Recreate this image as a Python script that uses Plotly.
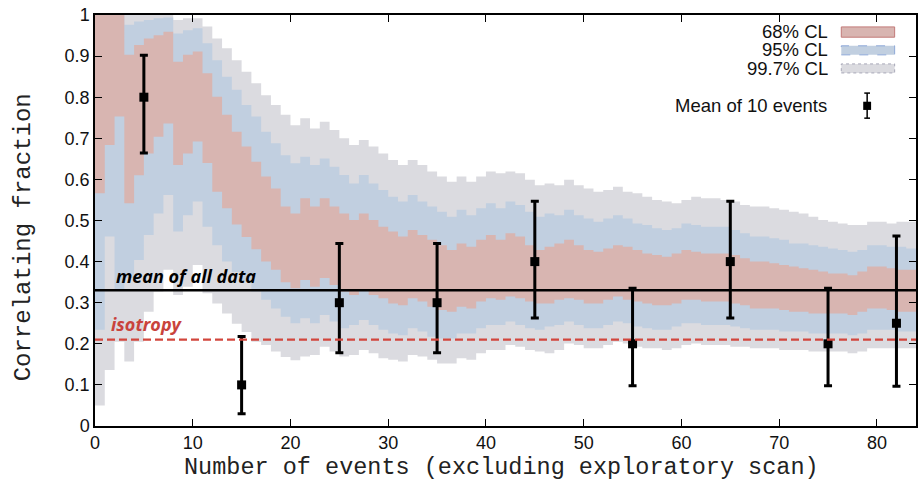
import plotly.graph_objects as go

# ---- band data: one value per event-count step (steps 0..83) ----
gray_lo = [0.05, 0.136, 0.205, 0.157, 0.205, 0.278, 0.327, 0.38, 0.319, 0.339, 0.392, 0.323, 0.298, 0.274, 0.249, 0.229, 0.205, 0.197, 0.181, 0.168, 0.16,
           0.169, 0.173, 0.193, 0.181, 0.169, 0.173, 0.185, 0.177, 0.165, 0.161, 0.157, 0.173, 0.169, 0.161, 0.152, 0.152, 0.165, 0.161, 0.177, 0.185, 0.185,
           0.197, 0.193, 0.185, 0.181, 0.177, 0.185, 0.201, 0.197, 0.189, 0.189, 0.197, 0.205, 0.201, 0.193, 0.189, 0.189, 0.185, 0.189, 0.197, 0.201, 0.197,
           0.197, 0.197, 0.193, 0.193, 0.189, 0.189, 0.189, 0.185, 0.185, 0.185, 0.181, 0.181, 0.181, 0.181, 0.177, 0.181, 0.189, 0.189, 0.189, 0.189, 0.189]
blue_lo = [0.234, 0.461, 0.33, 0.36, 0.404, 0.465, 0.517, 0.562, 0.473, 0.513, 0.546, 0.485, 0.44, 0.40, 0.375, 0.351, 0.327, 0.307, 0.286, 0.266, 0.25,
           0.262, 0.250, 0.270, 0.254, 0.238, 0.246, 0.258, 0.246, 0.234, 0.225, 0.221, 0.238, 0.230, 0.217, 0.213, 0.213, 0.225, 0.225, 0.238, 0.246, 0.246,
           0.254, 0.246, 0.238, 0.234, 0.242, 0.246, 0.254, 0.246, 0.238, 0.238, 0.246, 0.254, 0.250, 0.242, 0.238, 0.234, 0.234, 0.242, 0.250, 0.250, 0.246,
           0.246, 0.246, 0.242, 0.238, 0.234, 0.234, 0.234, 0.230, 0.230, 0.230, 0.225, 0.225, 0.225, 0.225, 0.221, 0.225, 0.234, 0.234, 0.234, 0.230, 0.230]
red_lo = [0.566, 0.684, 0.753, 0.542, 0.61, 0.663, 0.704, 0.736, 0.635, 0.663, 0.692, 0.64, 0.57, 0.53, 0.49, 0.46, 0.43, 0.40, 0.38, 0.35, 0.335,
          0.355, 0.339, 0.360, 0.343, 0.327, 0.319, 0.331, 0.319, 0.311, 0.298, 0.294, 0.311, 0.303, 0.290, 0.282, 0.278, 0.290, 0.286, 0.303, 0.311, 0.307,
          0.315, 0.311, 0.303, 0.298, 0.298, 0.307, 0.311, 0.307, 0.298, 0.298, 0.307, 0.315, 0.307, 0.303, 0.298, 0.294, 0.294, 0.298, 0.307, 0.307, 0.303,
          0.303, 0.303, 0.298, 0.294, 0.286, 0.286, 0.286, 0.282, 0.278, 0.278, 0.274, 0.274, 0.274, 0.274, 0.270, 0.278, 0.286, 0.286, 0.282, 0.278, 0.278]
red_hi = [1.0, 1.0, 1.0, 0.903, 0.927, 0.943, 0.951, 0.959, 0.886, 0.903, 0.911, 0.858, 0.801, 0.757, 0.716, 0.68, 0.643, 0.607, 0.578, 0.534, 0.517,
          0.554, 0.534, 0.554, 0.534, 0.517, 0.501, 0.517, 0.501, 0.485, 0.473, 0.461, 0.477, 0.465, 0.453, 0.440, 0.428, 0.444, 0.436, 0.453, 0.465, 0.453,
          0.469, 0.461, 0.440, 0.428, 0.436, 0.444, 0.453, 0.440, 0.428, 0.424, 0.432, 0.440, 0.436, 0.428, 0.420, 0.416, 0.412, 0.420, 0.428, 0.424, 0.420,
          0.420, 0.420, 0.416, 0.408, 0.400, 0.400, 0.396, 0.392, 0.388, 0.384, 0.380, 0.376, 0.371, 0.371, 0.367, 0.376, 0.388, 0.388, 0.384, 0.380, 0.380]
blue_hi = [1.0, 1.0, 1.0, 0.976, 0.984, 0.988, 0.992, 0.994, 0.955, 0.963, 0.968, 0.931, 0.89, 0.85, 0.818, 0.781, 0.753, 0.716, 0.688, 0.659, 0.639,
           0.655, 0.635, 0.651, 0.631, 0.611, 0.590, 0.611, 0.590, 0.574, 0.558, 0.546, 0.562, 0.546, 0.534, 0.521, 0.509, 0.526, 0.513, 0.530, 0.542, 0.530,
           0.546, 0.538, 0.521, 0.509, 0.517, 0.513, 0.526, 0.513, 0.505, 0.497, 0.505, 0.513, 0.505, 0.493, 0.489, 0.481, 0.477, 0.481, 0.493, 0.489, 0.485,
           0.485, 0.485, 0.477, 0.469, 0.461, 0.461, 0.457, 0.453, 0.444, 0.444, 0.440, 0.436, 0.432, 0.428, 0.424, 0.428, 0.440, 0.440, 0.436, 0.436, 0.432]
gray_hi = [1.0, 1.0, 1.0, 1.0, 1.0, 1.0, 1.0, 1.0, 0.988, 0.992, 0.992, 0.972, 0.943, 0.919, 0.89, 0.862, 0.834, 0.805, 0.781, 0.757, 0.732,
           0.749, 0.724, 0.740, 0.720, 0.700, 0.684, 0.696, 0.680, 0.663, 0.647, 0.635, 0.647, 0.635, 0.619, 0.607, 0.594, 0.607, 0.594, 0.607, 0.619, 0.615,
           0.619, 0.615, 0.599, 0.586, 0.590, 0.586, 0.599, 0.586, 0.578, 0.570, 0.574, 0.582, 0.570, 0.566, 0.558, 0.550, 0.546, 0.542, 0.550, 0.558, 0.554,
           0.554, 0.550, 0.546, 0.538, 0.534, 0.534, 0.530, 0.526, 0.521, 0.517, 0.509, 0.501, 0.497, 0.493, 0.489, 0.489, 0.497, 0.497, 0.493, 0.497, 0.497]

# ---- mean of 10 events ----
mean_x = [5, 15, 25, 35, 45, 55, 65, 75, 82]
mean_y = [0.8, 0.1, 0.3, 0.3, 0.4, 0.2, 0.4, 0.2, 0.25]
mean_hi = [0.902, 0.218, 0.444, 0.444, 0.547, 0.335, 0.547, 0.335, 0.462]
mean_lo = [0.664, 0.03, 0.178, 0.178, 0.263, 0.098, 0.263, 0.098, 0.097]

mean_all = 0.33
isotropy = 0.21

RED = "#d8b5b1"
BLUE = "#c1cfe0"
GRAY = "#dbdbe0"


def step_poly(lo, hi):
    xs, ys = [], []
    for k in range(len(hi)):
        xs += [k, k + 1]
        ys += [hi[k], hi[k]]
    for k in reversed(range(len(lo))):
        xs += [k + 1, k]
        ys += [lo[k], lo[k]]
    return xs, ys


fig = go.Figure()
for lo, hi, col in [(gray_lo, gray_hi, GRAY), (blue_lo, blue_hi, BLUE), (red_lo, red_hi, RED)]:
    xs, ys = step_poly(lo, hi)
    fig.add_trace(go.Scatter(x=xs, y=ys, fill="toself", fillcolor=col,
                             line=dict(width=0), mode="lines", hoverinfo="skip", showlegend=False))

# reference lines
fig.add_shape(type="line", xref="x", yref="y", x0=0, x1=84, y0=mean_all, y1=mean_all,
              line=dict(color="black", width=2.5))
fig.add_shape(type="line", xref="x", yref="y", x0=0, x1=84, y0=isotropy, y1=isotropy,
              line=dict(color="#d2463d", width=2.2, dash="8px,4px"))

fig.add_trace(go.Scatter(
    x=mean_x, y=mean_y, mode="markers",
    marker=dict(symbol="square", size=9, color="black"),
    error_y=dict(type="data", symmetric=False,
                 array=[h - y for h, y in zip(mean_hi, mean_y)],
                 arrayminus=[y - l for l, y in zip(mean_lo, mean_y)],
                 thickness=3, width=4, color="black"),
    showlegend=False, hoverinfo="skip"))

fig.add_annotation(x=1.9, y=mean_all + 0.002, xref="x", yref="y", text="<b><i>mean of all data</i></b>",
                   showarrow=False, xanchor="left", yanchor="bottom",
                   font=dict(family="Open Sans", size=18, color="black"))
fig.add_annotation(x=1.4, y=isotropy + 0.004, xref="x", yref="y", text="<b><i>isotropy</i></b>",
                   showarrow=False, xanchor="left", yanchor="bottom",
                   font=dict(family="Open Sans", size=18, color="#c9433c"))

# legend (gnuplot style, drawn manually)
LFONT = dict(family="Liberation Sans", size=18.5, color="#111")
leg = [("68% CL", RED, "#c27a78", "solid", 0.959, 0.971, 0.946),
       ("95% CL", BLUE, "#8ea8d8", "dash", 0.915, 0.925, 0.903),
       ("99.7% CL", GRAY, "#a8a8b8", "dot", 0.871, 0.881, 0.859)]
for label, fc, lc, dash, yc, y1, y0 in leg:
    fig.add_annotation(x=0.894, y=yc, xref="paper", yref="paper", text=label, showarrow=False,
                       xanchor="right", yanchor="middle", font=LFONT, borderpad=0,
                       height=17, valign="middle")
    fig.add_shape(type="rect", xref="paper", yref="paper", x0=0.909, x1=0.974, y0=y0, y1=y1,
                  fillcolor=fc, line=dict(color=lc, width=1, dash=dash))
fig.add_annotation(x=0.894, y=0.779, xref="paper", yref="paper", text="Mean of 10 events", showarrow=False,
                   xanchor="right", yanchor="middle", font=LFONT)
fig.add_shape(type="line", xref="paper", yref="paper", x0=0.9405, x1=0.9405, y0=0.749, y1=0.810,
              line=dict(color="black", width=1.5))
for yy in (0.749, 0.810):
    fig.add_shape(type="line", xref="paper", yref="paper", x0=0.937, x1=0.944, y0=yy, y1=yy,
                  line=dict(color="black", width=1.5))
fig.add_shape(type="rect", xref="paper", yref="paper", x0=0.9357, x1=0.9453, y0=0.769, y1=0.789,
              fillcolor="black", line=dict(width=0))

# axis titles
fig.add_annotation(x=0.495, y=-0.136, xref="paper", yref="paper",
                   text="Number of events (excluding exploratory scan)", showarrow=False,
                   xanchor="center", yanchor="bottom", borderpad=0,
                   font=dict(family="Liberation Mono", size=23.5, color="#222"))
fig.add_annotation(x=-0.086, y=0.46, xref="paper", yref="paper", text="Correlating fraction",
                   showarrow=False, textangle=-90, xanchor="center", yanchor="middle",
                   font=dict(family="Liberation Mono", size=24, color="#222"))

axis_common = dict(showgrid=False, zeroline=False, showline=True, linecolor="black", linewidth=1.5,
                   ticks="inside", ticklen=7, tickwidth=1.2, tickcolor="black", mirror="ticks",
                   tickfont=dict(family="Liberation Sans", size=18, color="#111"))
fig.update_xaxes(range=[0, 84], tick0=0, dtick=10, **axis_common)
fig.update_yaxes(range=[0, 1], tick0=0, dtick=0.1, **axis_common)

fig.update_layout(width=919, height=483, margin=dict(l=95, r=1, t=15, b=57),
                  plot_bgcolor="white", paper_bgcolor="white", showlegend=False)

post = ("document.body.style.margin='0';document.body.style.overflow='hidden';"
        "var gd=document.getElementById('{plot_id}');"
        "Plotly.relayout(gd,{width:919,height:483});")
fig.write_html("out.html", post_script=post, config={"responsive": False, "displayModeBar": False})
